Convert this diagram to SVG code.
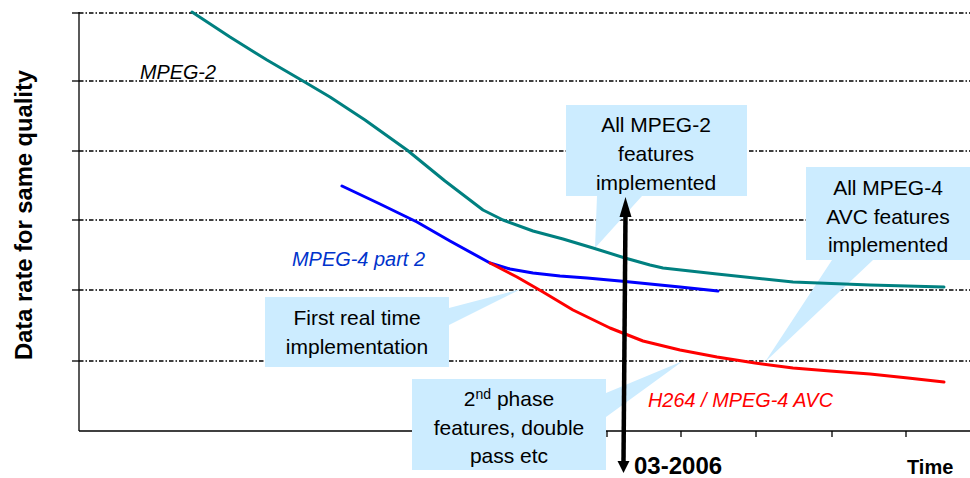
<svg xmlns="http://www.w3.org/2000/svg" width="970" height="478" viewBox="0 0 970 478">
<style>
.grid{stroke:#000;stroke-width:1.3;stroke-dasharray:4.5 2 1.5 2;fill:none}
.axis{stroke:#000;stroke-width:1.3;fill:none}
.callout{fill:#CCECFF;stroke:none}
.ct{font-family:"Liberation Sans",Arial,sans-serif;font-size:21px;fill:#000;text-anchor:middle}
.lbl{font-family:"Liberation Sans",Arial,sans-serif;font-size:20px;font-style:italic}
.bold{font-family:"Liberation Sans",Arial,sans-serif;font-weight:bold;fill:#000}
.curve{fill:none;stroke-width:3;stroke-linejoin:round;stroke-linecap:round}
.head{fill:#000;stroke:none}
</style>
<rect width="970" height="478" fill="#fff"/>
<g id="grid">
<line class="grid" x1="79" y1="13" x2="970" y2="13"/>
<line class="grid" x1="79" y1="81" x2="970" y2="81"/>
<line class="grid" x1="79" y1="151" x2="970" y2="151"/>
<line class="grid" x1="79" y1="220" x2="970" y2="220"/>
<line class="grid" x1="79" y1="290" x2="970" y2="290"/>
<line class="grid" x1="79" y1="361" x2="970" y2="361"/>
</g>
<g id="axes">
<line class="axis" x1="79" y1="12" x2="79" y2="431"/>
<line class="axis" x1="79" y1="431" x2="970" y2="431"/>
<line class="axis" x1="72" y1="13" x2="79" y2="13"/>
<line class="axis" x1="72" y1="81" x2="79" y2="81"/>
<line class="axis" x1="72" y1="151" x2="79" y2="151"/>
<line class="axis" x1="72" y1="220" x2="79" y2="220"/>
<line class="axis" x1="72" y1="290" x2="79" y2="290"/>
<line class="axis" x1="72" y1="361" x2="79" y2="361"/>
<line class="axis" x1="607" y1="431" x2="607" y2="437"/>
<line class="axis" x1="681" y1="431" x2="681" y2="437"/>
<line class="axis" x1="756" y1="431" x2="756" y2="437"/>
<line class="axis" x1="832" y1="431" x2="832" y2="437"/>
<line class="axis" x1="906" y1="431" x2="906" y2="437"/>
</g>
<g id="callout-mpeg2">
<path class="callout" d="M566,105 H747 V196 H642 L595,248 L597,196 H566 Z"/>
<text class="ct" x="656" y="132">All MPEG-2</text>
<text class="ct" x="656" y="161">features</text>
<text class="ct" x="656" y="190">implemented</text>
</g>
<g id="callout-avc">
<path class="callout" d="M806,167 H970 V260 H873 L765,362 L832,260 H806 Z"/>
<text class="ct" x="888" y="195">All MPEG-4</text>
<text class="ct" x="888" y="224">AVC features</text>
<text class="ct" x="888" y="252">implemented</text>
</g>
<g id="callout-first">
<path class="callout" d="M265,297 H449 V308 L521,289 L449,325 V367 H265 Z"/>
<text class="ct" x="357" y="325">First real time</text>
<text class="ct" x="357" y="354">implementation</text>
</g>
<g id="callout-2nd">
<path class="callout" d="M412,379 H606 V393 L683,361 L606,417 V470 H412 Z"/>
<text class="ct" x="509" y="406">2<tspan font-size="14" dy="-7">nd</tspan><tspan dy="7"> phase</tspan></text>
<text class="ct" x="509" y="435">features, double</text>
<text class="ct" x="509" y="463">pass etc</text>
</g>
<g id="curves">
<polyline class="curve" stroke="#008080" points="192,12 230,37 267,60 303,81 330,97 365,120 407,150 445,181 483,210 503,220 533,231 563,239 593,248 625,258 650,265 663,268 717,274 793,282 870,285 944,287"/>
<polyline class="curve" stroke="#0000FF" points="342,186 380,204 417,222 450,241 490,263 510,269 533,273 560,276 587,278 620,281 650,284 680,287 718,291"/>
<polyline class="curve" stroke="#FF0000" points="490,263 517,277 543,292 573,310 610,328 643,341 680,350 717,357 755,363 793,368 830,371 870,374 908,378 944,382"/>
</g>
<g id="arrow">
<line x1="625.5" y1="214" x2="623.5" y2="463" stroke="#000" stroke-width="4.5"/>
<polygon class="head" points="625.5,197 631.5,217 619.5,217"/>
<polygon class="head" points="623.5,473 629.5,461 617.5,461"/>
</g>
<g id="labels">
<text class="lbl" x="140" y="79" fill="#000" textLength="76" lengthAdjust="spacingAndGlyphs">MPEG-2</text>
<text class="lbl" x="292" y="266" fill="#0033CC" textLength="133" lengthAdjust="spacingAndGlyphs">MPEG-4 part 2</text>
<text class="lbl" x="648" y="407" fill="#FF0000" textLength="185" lengthAdjust="spacingAndGlyphs">H264 / MPEG-4 AVC</text>
<text class="bold" x="634" y="474" font-size="24">03-2006</text>
<text class="bold" x="907" y="474" font-size="20">Time</text>
<text class="bold" font-size="24" text-anchor="middle" transform="translate(32,215) rotate(-90)" textLength="290" lengthAdjust="spacingAndGlyphs">Data rate for same quality</text>
</g>
</svg>
